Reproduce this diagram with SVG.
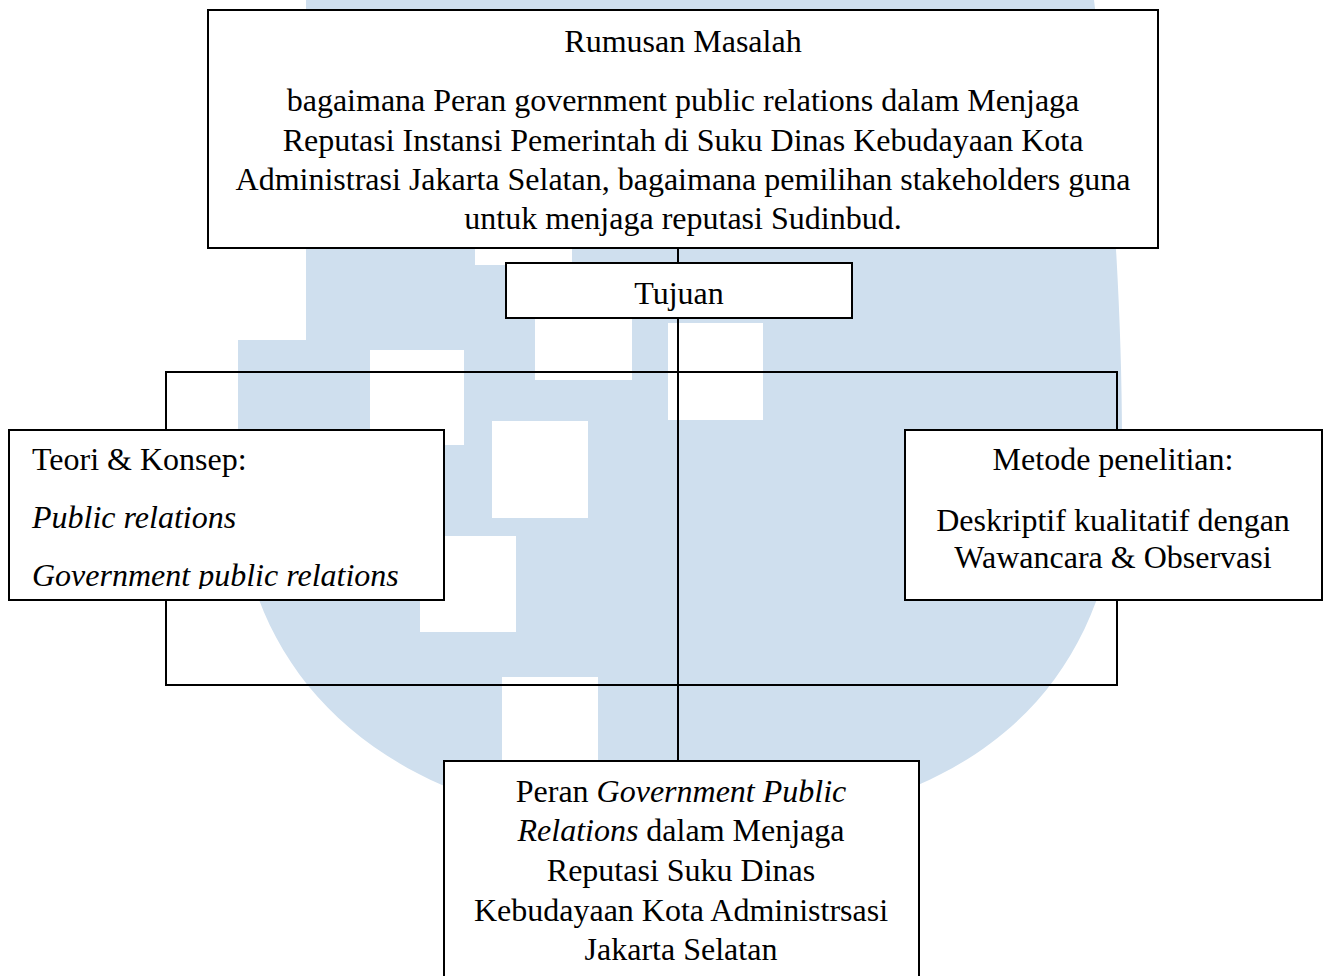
<svg xmlns="http://www.w3.org/2000/svg" width="1325" height="976" viewBox="0 0 1325 976">
  <style>
    .box { fill: #ffffff; stroke: #000000; stroke-width: 2; }
    .wire { fill: none; stroke: #000000; stroke-width: 2; }
    .t { font-family: "Liberation Serif", "Times New Roman", serif; font-size: 32px; fill: #000000; }
    .c { text-anchor: middle; }
    .i { font-style: italic; }
    .wm { fill: #cfdfee; }
    .wh { fill: #ffffff; }
  </style>
  <defs>
    <clipPath id="clipTeori">
      <rect x="10" y="431" width="433" height="158"/>
    </clipPath>
  </defs>
  <rect x="0" y="0" width="1325" height="976" fill="#ffffff"/>
  <g id="watermark">
    <path class="wm" d="M306 0 H1094 C1110 130 1122 300 1122 440 C1122 610 1055 725 918 785 L680 860 L442 785 C305 725 238 610 238 480 V340 H306 Z"/>
    <rect class="wh" x="475" y="168" width="97" height="97"/>
    <rect class="wh" x="535" y="283" width="97" height="97"/>
    <rect class="wh" x="668" y="323" width="95" height="97"/>
    <rect class="wh" x="370" y="350" width="94" height="95"/>
    <rect class="wh" x="492" y="421" width="96" height="97"/>
    <rect class="wh" x="420" y="536" width="96" height="96"/>
    <rect class="wh" x="502" y="677" width="96" height="96"/>
  </g>
  <g id="connectors">
    <line class="wire" x1="678" y1="248" x2="678" y2="761"/>
    <rect class="wire" x="166" y="372" width="951" height="313"/>
  </g>
  <g id="rumusan">
    <rect class="box" x="208" y="10" width="950" height="238"/>
    <text class="t c" x="683" y="52">Rumusan Masalah</text>
    <text class="t c" x="683" y="111">bagaimana Peran government public relations dalam Menjaga</text>
    <text class="t c" x="683" y="151">Reputasi Instansi Pemerintah di Suku Dinas Kebudayaan Kota</text>
    <text class="t c" x="683" y="190">Administrasi Jakarta Selatan, bagaimana pemilihan stakeholders guna</text>
    <text class="t c" x="683" y="229">untuk menjaga reputasi Sudinbud.</text>
  </g>
  <g id="tujuan">
    <rect class="box" x="506" y="263" width="346" height="55"/>
    <text class="t c" x="679" y="304">Tujuan</text>
  </g>
  <g id="teori">
    <rect class="box" x="9" y="430" width="435" height="170"/>
    <g clip-path="url(#clipTeori)">
      <text class="t" x="32" y="470">Teori &amp; Konsep:</text>
      <text class="t i" x="32" y="528">Public relations</text>
      <text class="t i" x="32" y="586">Government public relations</text>
    </g>
  </g>
  <g id="metode">
    <rect class="box" x="905" y="430" width="417" height="170"/>
    <text class="t c" x="1113" y="470">Metode penelitian:</text>
    <text class="t c" x="1113" y="531">Deskriptif kualitatif dengan</text>
    <text class="t c" x="1113" y="568">Wawancara &amp; Observasi</text>
  </g>
  <g id="hasil">
    <rect class="box" x="444" y="761" width="475" height="240"/>
    <text class="t c" x="681" y="802">Peran <tspan class="i">Government Public</tspan></text>
    <text class="t c" x="681" y="841"><tspan class="i">Relations</tspan> dalam Menjaga</text>
    <text class="t c" x="681" y="881">Reputasi Suku Dinas</text>
    <text class="t c" x="681" y="921">Kebudayaan Kota Administrsasi</text>
    <text class="t c" x="681" y="960">Jakarta Selatan</text>
  </g>
</svg>
